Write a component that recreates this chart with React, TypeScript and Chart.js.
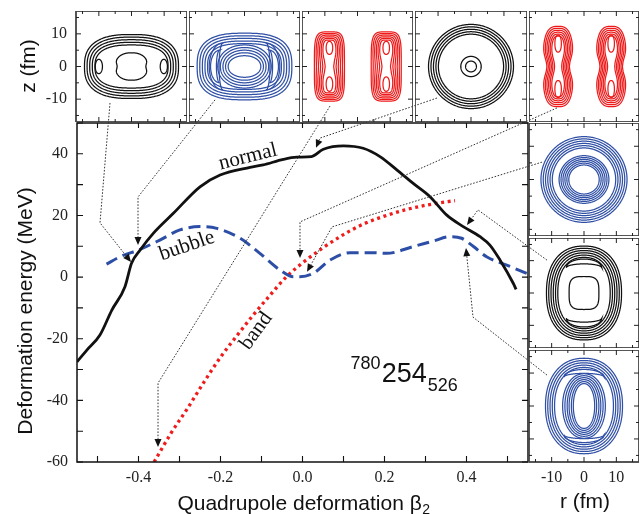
import React, { useEffect, useRef } from "react";
import { Chart, registerables } from "chart.js";

Chart.register(...registerables);

// ---------------- main panel data (beta2, MeV) ----------------
const NORMAL_BETA = [-0.55, -0.526, -0.494, -0.465, -0.433, -0.417, -0.396, -0.364, -0.315, -0.25, -0.201, -0.128, -0.096, -0.047, -0.014, 0.022, 0.051, 0.1, 0.148, 0.189, 0.23, 0.27, 0.311, 0.352, 0.392, 0.433, 0.457, 0.482, 0.514, 0.521];
const NORMAL_E = [-27.5, -23.7, -18.8, -10.7, -3.1, 4.5, 8.8, 14.2, 20.7, 29.3, 33.1, 35.6, 36.4, 38.2, 38.9, 39.1, 41.5, 42.6, 41.8, 39.1, 34.8, 30.4, 26.1, 20.1, 16.4, 13.1, 10.4, 5.5, -2.0, -4.0];

const BUBBLE_BETA = [-0.478, -0.445, -0.396, -0.348, -0.299, -0.25, -0.209, -0.152, -0.104, -0.055, -0.022, -0.006, 0.026, 0.067, 0.116, 0.173, 0.205, 0.27, 0.319, 0.36, 0.388, 0.417, 0.449, 0.498, 0.547];
const BUBBLE_E = [4.2, 6.6, 9.0, 12.0, 15.3, 16.4, 15.8, 12.6, 7.7, 2.3, 0.1, 0.1, 1.2, 5.5, 7.9, 7.9, 7.7, 9.9, 11.7, 13.1, 12.6, 9.9, 6.6, 3.9, 1.2];

const BAND_BETA = [-0.362, -0.32, -0.28, -0.24, -0.2, -0.16, -0.12, -0.08, -0.04, 0.0, 0.05, 0.1, 0.15, 0.2, 0.25, 0.3, 0.35, 0.372];
const BAND_E = [-60, -50.5, -42.5, -34, -26, -19, -12.3, -6, 0, 4.6, 9.5, 13.8, 17.3, 19.8, 21.8, 23.3, 24.4, 24.8];

const X_TICKS = [-0.5, -0.4, -0.3, -0.2, -0.1, 0, 0.1, 0.2, 0.3, 0.4, 0.5];
const X_LABELLED = [-0.4, -0.2, 0, 0.2, 0.4];
const Y_TICKS = [-60, -50, -40, -30, -20, -10, 0, 10, 20, 30, 40, 50];
const Y_LABELLED = [-60, -40, -20, 0, 20, 40];

// arrows: waypoints in (beta2, MeV) of the main panel
const ARROWS = [
  [[-0.4695, 56.5], [-0.4939, 17.6], [-0.4183, 4.9]],
  [[-0.2134, 57.5], [-0.4012, 26.0], [-0.4012, 10.4]],
  [[0.0671, 55.5], [-0.3524, -34.4], [-0.3524, -55.1]],
  [[0.328, 58.1], [0.0427, 45.1], [0.0329, 42.0]],
  [[0.6207, 54.9], [-0.0061, 17.9], [-0.0061, 6.2]],
  [[0.5841, 37.3], [0.072, 16.3], [0.011, 1.7]],
  [[0.5963, 5.5], [0.428, 21.8], [0.4012, 16.9]],
  [[0.5963, -31.8], [0.4159, -13.0], [0.3988, 9.4]],
];

// ---------------- inset contour parameters (fm) ----------------
const INSET_MAJOR = [-10, 0, 10];
const INSET_MINOR = [-15, -5, 5, 15];

const P1_RING_A = [14.4, 13.6, 12.8, 12.0, 11.2];
const P1_RING_B = [9.8, 9.0, 8.2, 7.4, 6.6];
const P1_LOBE_X = [-10, 9.9];

const P2_RING_A = [14.5, 13.7, 12.9, 12.1, 11.3];
const P2_RING_B = [10.2, 9.4, 8.6, 7.8, 7.0];
const P2_INNER_A = [8.2, 7.4, 6.6, 5.8, 5.0];
const P2_INNER_B = [6.6, 5.8, 5.0, 4.2, 3.3];

const P3_CENTERS = [-8.6, 8.8];
const P3_A = [4.6, 4.1, 3.6, 3.1, 2.6, 2.1];
const P3_B = [10.6, 10.1, 9.6, 9.1, 8.6, 8.1];
const P3_PINCH = [0.0, 0.03, 0.07, 0.13, 0.22, 0.38];

const P4_OUTER_R = [12.9, 12.15, 11.4, 10.65, 9.9];
const P4_INNER_R = [3.1, 1.65];

const P5_CENTERS = [-8.0, 8.4];
const P5_A = [4.7, 4.2, 3.7, 3.2, 2.7, 2.2];
const P5_B = [12.3, 11.7, 11.1, 10.5, 9.9, 9.3];
const P5_PINCH = [0.26, 0.28, 0.31, 0.35, 0.4, 0.5];

const R1_OUTER_R = [13.3, 12.6, 11.9, 11.2, 10.5, 9.8];
const R1_INNER_R = [7.7, 7.1, 6.5, 5.9, 5.3, 4.7];

const R2_A = [11.6, 10.9, 10.2, 9.5, 8.8, 8.1];
const R2_B = [14.5, 13.8, 13.1, 12.4, 11.7, 11.0];

const R3_A = [11.9, 11.2, 10.5, 9.8, 9.1];
const R3_B = [14.5, 13.8, 13.1, 12.4, 11.7];
const R3_INNER_A = [6.6, 5.9, 5.2, 4.6, 3.9, 3.3];
const R3_INNER_B = [9.8, 9.2, 8.6, 8.0, 7.4, 6.8];

type Pt = { x: number; y: number };
const STEPS = 160;

function superellipse(cx: number, cy: number, a: number, b: number, n: number, pinch = 0, pinchW = 3): Pt[] {
  const pts: Pt[] = [];
  for (let i = 0; i <= STEPS; i++) {
    const t = (2 * Math.PI * i) / STEPS;
    const c = Math.cos(t);
    const s = Math.sin(t);
    let dx = a * Math.sign(c) * Math.pow(Math.abs(c), 2 / n);
    const dy = b * Math.sign(s) * Math.pow(Math.abs(s), 2 / n);
    if (pinch) dx *= 1 - pinch * Math.exp(-(dy * dy) / (pinchW * pinchW));
    pts.push({ x: cx + dx, y: cy + dy });
  }
  return pts;
}

function crescent(cx: number, cy: number, h: number, wo: number, wi: number, dir: number, vertical: boolean): Pt[] {
  const pts: Pt[] = [];
  const N = 60;
  const mk = (s: number, w: number) => {
    const bulge = w * Math.sqrt(Math.max(0, 1 - s * s));
    return vertical ? { x: cx + dir * bulge, y: cy + h * s } : { x: cx + h * s, y: cy + dir * bulge };
  };
  for (let i = 0; i <= N; i++) pts.push(mk(-1 + (2 * i) / N, wo));
  for (let i = N; i >= 0; i--) pts.push(mk(-1 + (2 * i) / N, wi));
  return pts;
}

const BLACK = "#111111";
const BLUE = "#3050a6";
const RED = "#ee1a1a";

type InsetSpec = {
  left: number; top: number; w: number; h: number; color: string; shapes: Pt[][];
  yLabels?: boolean; xLabels?: boolean;
};

function buildInsets(): InsetSpec[] {
  const p1: Pt[][] = [];
  P1_RING_A.forEach((a, i) => p1.push(superellipse(0, 0, a, P1_RING_B[i], 2.6)));
  P1_LOBE_X.forEach((x) => p1.push(superellipse(x, 0, 1.1, 2.2, 2)));
  p1.push(superellipse(0, 0, 5.0, 4.2, 2.3, 0.12, 1.3));

  const p2: Pt[][] = [];
  P2_RING_A.forEach((a, i) => p2.push(superellipse(0, 0, a, P2_RING_B[i], 2.8)));
  [-1, 1].forEach((d) => {
    p2.push(crescent(d * 6.6, 0, 7.2, 4.2, 1.2, d, true));
    p2.push(crescent(d * 7.6, 0, 5.0, 2.8, 1.0, d, true));
  });
  P2_INNER_A.forEach((a, i) => p2.push(superellipse(0, 0, a, P2_INNER_B[i], 2.1)));

  const p3: Pt[][] = [];
  P3_CENTERS.forEach((cx) => {
    P3_A.forEach((a, i) => p3.push(superellipse(cx, 0, a, P3_B[i], 4.5, P3_PINCH[i], 3)));
    p3.push(superellipse(cx, 5.7, 1.0, 2.0, 2.2));
    p3.push(superellipse(cx, -5.4, 1.0, 2.2, 2.2));
  });

  const p4: Pt[][] = [];
  P4_OUTER_R.forEach((r) => p4.push(superellipse(0, 0, r, r, 2)));
  P4_INNER_R.forEach((r) => p4.push(superellipse(0, 0, r, r, 2)));

  const p5: Pt[][] = [];
  P5_CENTERS.forEach((cx) => {
    P5_A.forEach((a, i) => p5.push(superellipse(cx, 0, a, P5_B[i], 3, P5_PINCH[i], 3.5)));
    p5.push(superellipse(cx, 7.0, 1.0, 2.6, 2.2));
    p5.push(superellipse(cx, -6.9, 1.0, 2.6, 2.2));
  });

  const r1: Pt[][] = [];
  R1_OUTER_R.forEach((r) => r1.push(superellipse(0, 0, r, r * 0.97, 2)));
  R1_INNER_R.forEach((r) => r1.push(superellipse(0, 0, r, r * 0.93, 2)));

  const r2: Pt[][] = [];
  R2_A.forEach((a, i) => r2.push(superellipse(0, 0, a, R2_B[i], 2.3)));
  [-1, 1].forEach((d) => {
    r2.push(crescent(0, d * 7.8, 5.5, 2.7, 1.2, d, false));
  });
  r2.push(superellipse(0, 0, 4.6, 5.1, 3.5));

  const r3: Pt[][] = [];
  R3_A.forEach((a, i) => r3.push(superellipse(0, 0, a, R3_B[i], 2.2)));
  [-1, 1].forEach((d) => {
    r3.push(crescent(0, d * 8.8, 6.2, 2.3, 1.1, d, false));
  });
  R3_INNER_A.forEach((a, i) => r3.push(superellipse(0, 0, a, R3_INNER_B[i], 2.1)));

  return [
    { left: 76, top: 11, w: 111, h: 111, color: BLACK, shapes: p1, yLabels: true },
    { left: 189, top: 11, w: 111, h: 111, color: BLUE, shapes: p2 },
    { left: 302, top: 11, w: 111, h: 111, color: RED, shapes: p3 },
    { left: 415, top: 11, w: 112, h: 111, color: BLACK, shapes: p4 },
    { left: 529, top: 11, w: 110, h: 111, color: RED, shapes: p5 },
    { left: 529, top: 123, w: 110, h: 113, color: BLUE, shapes: r1 },
    { left: 529, top: 238, w: 110, h: 110, color: BLACK, shapes: r2 },
    { left: 529, top: 350, w: 110, h: 112, color: BLUE, shapes: r3, xLabels: true },
  ];
}

const PAD_L = 76;
const PAD_B = 52;

const insetDecor = {
  id: "insetDecor",
  afterDraw(chart: any) {
    const { ctx, chartArea: ca, scales } = chart;
    const sx = scales.x;
    const sy = scales.y;
    ctx.save();
    ctx.strokeStyle = "#444";
    ctx.lineWidth = 1.8;
    ctx.strokeRect(ca.left, ca.top, ca.right - ca.left, ca.bottom - ca.top);
    ctx.lineWidth = 1;
    ctx.strokeStyle = "#222";
    const tick = (vals: number[], len: number) => {
      vals.forEach((v) => {
        const px = sx.getPixelForValue(v);
        const py = sy.getPixelForValue(v);
        ctx.beginPath();
        ctx.moveTo(px, ca.bottom); ctx.lineTo(px, ca.bottom - len);
        ctx.moveTo(px, ca.top); ctx.lineTo(px, ca.top + len);
        ctx.moveTo(ca.left, py); ctx.lineTo(ca.left + len, py);
        ctx.moveTo(ca.right, py); ctx.lineTo(ca.right - len, py);
        ctx.stroke();
      });
    };
    tick(INSET_MAJOR, 5);
    tick(INSET_MINOR, 3);
    ctx.restore();
  },
};

function fmtNum(v: number) {
  return v < 0 ? "-" + String(Math.abs(v)) : String(v);
}

function makeInset(canvas: HTMLCanvasElement, spec: InsetSpec) {
  const datasets = spec.shapes.map((pts) => ({
    data: pts,
    showLine: true,
    borderColor: spec.color,
    borderWidth: 1.25,
    pointRadius: 0,
    fill: false,
    tension: 0.05,
  }));
  return new Chart(canvas, {
    type: "scatter",
    data: { datasets },
    options: {
      animation: false,
      responsive: false,
      events: [],
      layout: { padding: 0, autoPadding: false },
      plugins: { legend: { display: false }, tooltip: { enabled: false } },
      scales: {
        x: {
          type: "linear",
          min: -17,
          max: 17,
          display: !!spec.xLabels,
          grid: { display: false, drawTicks: false },
          border: { display: false },
          afterBuildTicks: (s: any) => { s.ticks = INSET_MAJOR.map((v) => ({ value: v })); },
          afterFit: (s: any) => {
            s.height = spec.xLabels ? PAD_B : 0;
            s.paddingLeft = 0; s.paddingRight = 0;
          },
          ticks: {
            autoSkip: false, maxRotation: 0, padding: 6, color: "#222",
            font: { family: "Liberation Serif", size: 16 },
            callback: (v: any) => fmtNum(Number(v)),
          },
        },
        y: {
          type: "linear",
          min: -17,
          max: 17,
          display: !!spec.yLabels,
          grid: { display: false, drawTicks: false },
          border: { display: false },
          afterBuildTicks: (s: any) => { s.ticks = INSET_MAJOR.map((v) => ({ value: v })); },
          afterFit: (s: any) => {
            s.width = spec.yLabels ? PAD_L : 0;
            s.paddingTop = 0; s.paddingBottom = 0;
          },
          ticks: {
            autoSkip: false, padding: 9, color: "#222",
            font: { family: "Liberation Serif", size: 16 },
            callback: (v: any) => fmtNum(Number(v)),
          },
        },
      },
    } as any,
    plugins: [insetDecor],
  });
}

function drawArrow(ctx: CanvasRenderingContext2D, pts: number[][]) {
  const n = pts.length;
  const [x1, y1] = pts[n - 2];
  const [x2, y2] = pts[n - 1];
  const ang = Math.atan2(y2 - y1, x2 - x1);
  const L = 8;
  const W = 3.5;
  const bx = x2 - L * Math.cos(ang);
  const by = y2 - L * Math.sin(ang);
  ctx.save();
  ctx.strokeStyle = "#333";
  ctx.lineWidth = 1;
  ctx.setLineDash([1.6, 1.6]);
  ctx.beginPath();
  ctx.moveTo(pts[0][0], pts[0][1]);
  for (let i = 1; i < n - 1; i++) ctx.lineTo(pts[i][0], pts[i][1]);
  ctx.lineTo(bx, by);
  ctx.stroke();
  ctx.setLineDash([]);
  ctx.fillStyle = "#111";
  ctx.beginPath();
  ctx.moveTo(x2, y2);
  ctx.lineTo(bx + W * Math.sin(ang), by - W * Math.cos(ang));
  ctx.lineTo(bx - W * Math.sin(ang), by + W * Math.cos(ang));
  ctx.closePath();
  ctx.fill();
  ctx.restore();
}

const NORMAL_LABEL = { beta: -0.133, e: 39.0, rot: -14 };
const BUBBLE_LABEL = { beta: -0.282, e: 10.1, rot: -19 };
const BAND_LABEL = { beta: -0.113, e: -17.5, rot: -54 };
const NUCLEUS_ANCHOR = { beta: 0.193, e: -33.9 };

const mainDecor = {
  id: "mainDecor",
  afterDraw(chart: any) {
    const { ctx, chartArea: ca, scales } = chart;
    const sx = scales.x;
    const sy = scales.y;
    ctx.save();
    // frame
    ctx.strokeStyle = "#111";
    ctx.lineWidth = 1.5;
    ctx.strokeRect(ca.left, ca.top, ca.right - ca.left, ca.bottom - ca.top);
    ctx.lineWidth = 1.1;
    X_TICKS.forEach((v) => {
      const px = sx.getPixelForValue(v);
      ctx.beginPath();
      ctx.moveTo(px, ca.bottom); ctx.lineTo(px, ca.bottom - 6);
      ctx.moveTo(px, ca.top); ctx.lineTo(px, ca.top + 5);
      ctx.stroke();
    });
    Y_TICKS.forEach((v) => {
      const py = sy.getPixelForValue(v);
      ctx.beginPath();
      ctx.moveTo(ca.left, py); ctx.lineTo(ca.left + 6, py);
      ctx.moveTo(ca.right, py); ctx.lineTo(ca.right - 6, py);
      ctx.stroke();
    });

    // arrows
    ARROWS.forEach((a) => {
      drawArrow(ctx, a.map(([b, e]) => [sx.getPixelForValue(b), sy.getPixelForValue(e)]));
    });

    // curve labels
    ctx.fillStyle = "#111";
    ctx.textAlign = "center";
    ctx.textBaseline = "middle";
    ctx.font = '21px "Liberation Serif"';
    const lab = (t: string, p: { beta: number; e: number; rot: number }) => {
      ctx.save();
      ctx.translate(sx.getPixelForValue(p.beta), sy.getPixelForValue(p.e));
      ctx.rotate((p.rot * Math.PI) / 180);
      ctx.fillText(t, 0, 0);
      ctx.restore();
    };
    lab("normal", NORMAL_LABEL);
    lab("bubble", BUBBLE_LABEL);
    lab("band", BAND_LABEL);

    // nucleus label
    const ax = sx.getPixelForValue(NUCLEUS_ANCHOR.beta);
    const ay = sy.getPixelForValue(NUCLEUS_ANCHOR.e);
    ctx.textBaseline = "alphabetic";
    ctx.textAlign = "left";
    ctx.font = '27px "Liberation Sans"';
    ctx.fillText("254", ax, ay);
    const w254 = ctx.measureText("254").width;
    ctx.font = '18px "Liberation Sans"';
    ctx.textAlign = "right";
    ctx.fillText("780", ax - 1, ay - 13);
    ctx.textAlign = "left";
    ctx.fillText("526", ax + w254 + 1, ay + 9);

    // axis titles
    ctx.fillStyle = "#111";
    ctx.font = '21px "Liberation Sans"';
    ctx.textAlign = "center";
    ctx.save();
    ctx.translate(32, 311);
    ctx.rotate(-Math.PI / 2);
    ctx.fillText("Deformation energy (MeV)", 0, 0);
    ctx.restore();
    ctx.save();
    ctx.translate(35, 66);
    ctx.rotate(-Math.PI / 2);
    ctx.fillText("z (fm)", 0, 0);
    ctx.restore();
    ctx.fillText("r (fm)", 585, 508);

    const main = "Quadrupole deformation \u03b2";
    const wMain = ctx.measureText(main).width;
    ctx.font = '14px "Liberation Sans"';
    const wSub = ctx.measureText("2").width;
    const startX = 303.5 - (wMain + wSub) / 2;
    ctx.textAlign = "left";
    ctx.font = '21px "Liberation Sans"';
    ctx.fillText(main, startX, 510);
    ctx.font = '14px "Liberation Sans"';
    ctx.fillText("2", startX + wMain + 0.5, 514);
    ctx.restore();
  },
};

function zip(bs: number[], es: number[]) {
  return bs.map((b, i) => ({ x: b, y: es[i] }));
}

export default function App() {
  const mainRef = useRef<HTMLCanvasElement>(null);
  const insetRefs = useRef<(HTMLCanvasElement | null)[]>([]);
  const insets = buildInsets();

  useEffect(() => {
    const charts: Chart[] = [];
    if (mainRef.current) {
      charts.push(
        new Chart(mainRef.current, {
          type: "scatter",
          data: {
            datasets: [
              {
                label: "normal",
                data: zip(NORMAL_BETA, NORMAL_E),
                showLine: true,
                borderColor: "#111",
                borderWidth: 2.8,
                pointRadius: 0,
                cubicInterpolationMode: "monotone",
              },
              {
                label: "bubble",
                data: zip(BUBBLE_BETA, BUBBLE_E),
                showLine: true,
                borderColor: "#2c4ea6",
                borderWidth: 3,
                borderDash: [12, 6],
                pointRadius: 0,
                cubicInterpolationMode: "monotone",
              },
              {
                label: "band",
                data: zip(BAND_BETA, BAND_E),
                showLine: true,
                borderColor: "#f01c1c",
                borderWidth: 3.3,
                borderDash: [3, 3.6],
                pointRadius: 0,
                cubicInterpolationMode: "monotone",
              },
            ],
          },
          options: {
            animation: false,
            responsive: false,
            events: [],
            layout: { padding: { top: 123, right: 112, left: 0, bottom: 0 } },
            plugins: { legend: { display: false }, tooltip: { enabled: false } },
            scales: {
              x: {
                type: "linear",
                min: -0.55,
                max: 0.55,
                grid: { display: false, drawTicks: false },
                border: { display: false },
                afterBuildTicks: (s: any) => { s.ticks = X_TICKS.map((v) => ({ value: v })); },
                afterFit: (s: any) => { s.height = 52; },
                ticks: {
                  autoSkip: false, maxRotation: 0, padding: 6, color: "#222",
                  font: { family: "Liberation Serif", size: 16 },
                  callback: (v: any) => {
                    const n = Number(v);
                    const hit = X_LABELLED.find((l) => Math.abs(l - n) < 1e-6);
                    return hit === undefined ? "" : hit.toFixed(1);
                  },
                },
              },
              y: {
                type: "linear",
                min: -60,
                max: 50,
                grid: { display: false, drawTicks: false },
                border: { display: false },
                afterBuildTicks: (s: any) => { s.ticks = Y_TICKS.map((v) => ({ value: v })); },
                afterFit: (s: any) => { s.width = 77; },
                ticks: {
                  autoSkip: false, padding: 9, color: "#222",
                  font: { family: "Liberation Serif", size: 16 },
                  callback: (v: any) => {
                    const n = Number(v);
                    const hit = Y_LABELLED.find((l) => Math.abs(l - n) < 1e-6);
                    return hit === undefined ? "" : fmtNum(hit);
                  },
                },
              },
            },
          } as any,
          plugins: [mainDecor],
        })
      );
    }
    insets.forEach((spec, i) => {
      const c = insetRefs.current[i];
      if (c) charts.push(makeInset(c, spec));
    });
    return () => charts.forEach((c) => c.destroy());
  }, []);

  return (
    <div style={{ position: "fixed", left: 0, top: 0, width: 640, height: 514, background: "#fff", overflow: "hidden" }}>
      <canvas
        ref={mainRef}
        width={640}
        height={514}
        style={{ position: "absolute", left: 0, top: 0, width: 640, height: 514 }}
      />
      {insets.map((s, i) => {
        const l = s.left - (s.yLabels ? PAD_L : 0);
        const w = s.w + (s.yLabels ? PAD_L : 0);
        const h = s.h + (s.xLabels ? PAD_B : 0);
        return (
          <canvas
            key={i}
            ref={(el) => { insetRefs.current[i] = el; }}
            width={w}
            height={h}
            style={{ position: "absolute", left: l, top: s.top, width: w, height: h }}
          />
        );
      })}
    </div>
  );
}
